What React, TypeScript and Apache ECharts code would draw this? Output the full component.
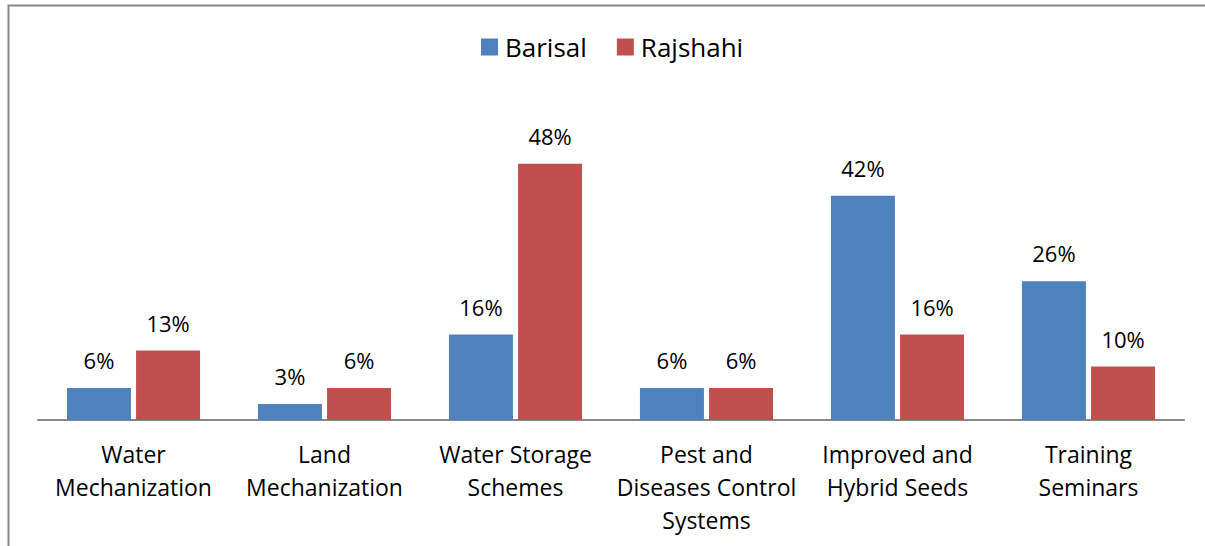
import React, { useEffect, useRef } from "react";
import * as echarts from "echarts";

const categories = [
  "Water\nMechanization",
  "Land\nMechanization",
  "Water Storage\nSchemes",
  "Pest and\nDiseases Control\nSystems",
  "Improved and\nHybrid Seeds",
  "Training\nSeminars",
];
const barisal = [6, 3, 16, 6, 42, 26];
const rajshahi = [13, 6, 48, 6, 16, 10];

const FONT = "Open Sans";

export default function App() {
  const ref = useRef<HTMLDivElement>(null);
  useEffect(() => {
    const chart = echarts.init(ref.current!, null, { renderer: "svg" });
    const label = {
      show: true,
      position: "top" as const,
      distance: 17,
      formatter: "{c}%",
      color: "#000",
      fontFamily: FONT,
      fontSize: 22,
    };
    chart.setOption({
      animation: false,
      backgroundColor: "#fff",
      graphic: [
        {
          type: "rect",
          shape: { x: 8.5, y: 5.5, width: 1300, height: 700 },
          style: { fill: "none", stroke: "#888", lineWidth: 2 },
          silent: true,
        },
      ],
      legend: {
        top: 29,
        left: 476,
        itemWidth: 17,
        itemHeight: 17,
        itemGap: 30,
        icon: "rect",
        textStyle: { fontFamily: FONT, fontSize: 26, color: "#000", padding: [0, 0, 0, 2] },
        data: ["Barisal", "Rajshahi"],
      },
      grid: { left: 38, right: 21, top: 105, bottom: 126 },
      xAxis: {
        type: "category",
        data: categories,
        axisLine: { lineStyle: { color: "#888", width: 2 } },
        axisTick: { show: false },
        axisLabel: {
          interval: 0,
          margin: 17,
          color: "#000",
          fontFamily: FONT,
          fontSize: 23,
          lineHeight: 33,
        },
      },
      yAxis: {
        type: "value",
        min: 0,
        max: 59,
        show: false,
        splitLine: { show: false },
      },
      series: [
        {
          name: "Barisal",
          type: "bar",
          data: barisal,
          barWidth: 64,
          barGap: "8%",
          itemStyle: { color: "#4F81BD" },
          label,
        },
        {
          name: "Rajshahi",
          type: "bar",
          data: rajshahi,
          barWidth: 64,
          itemStyle: { color: "#C0504D" },
          label,
        },
      ],
    });
    return () => chart.dispose();
  }, []);
  return (
    <div
      ref={ref}
      style={{ position: "absolute", left: 0, top: 0, width: 1205, height: 546 }}
    />
  );
}
